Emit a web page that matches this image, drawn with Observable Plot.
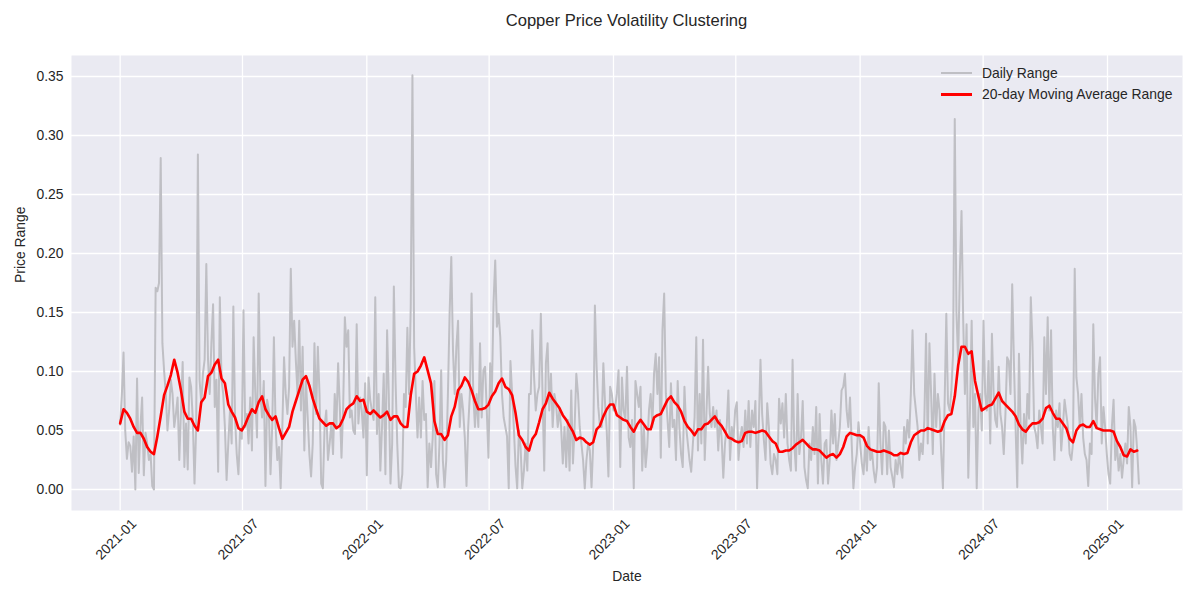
<!DOCTYPE html>
<html>
<head>
<meta charset="utf-8">
<script src="https://cdn.jsdelivr.net/npm/d3@7"></script>
<script src="https://cdn.jsdelivr.net/npm/@observablehq/plot@0.6"></script>
<style>
  body { margin: 0; background: #ffffff; }
  #wrap { position: relative; width: 1200px; height: 600px; font-family: "Liberation Sans", Arial, sans-serif; color: #262626; }
  #title { position: absolute; left: 71px; width: 1111px; top: 1px; height: 40px; line-height: 40px; text-align: center; font-size: 16.6px; }
  #chart { position: absolute; left: 0; top: 40px; }
  .sw { position: absolute; left: 941px; width: 31px; }
  .lt { position: absolute; left: 982px; font-size: 13.9px; line-height: 16px; transform: translateY(-50%); white-space: nowrap; }
</style>
</head>
<body>
<div id="wrap">
  <div id="title">Copper Price Volatility Clustering</div>
  <div id="chart"></div>
  <div class="sw" style="top:72px;height:2px;background:#bfbfc4"></div>
  <div class="lt" style="top:73px">Daily Range</div>
  <div class="sw" style="top:92.5px;height:3px;background:#ff0000"></div>
  <div class="lt" style="top:94px">20-day Moving Average Range</div>
</div>
<script>
// ---- data ----
const seriesStart = "2021-01-01";
const rangeStepDays = 2.5;   // spacing of the daily-range readings
const maStepDays = 5;        // spacing of the moving-average readings

const dailyRange = [
0.055,0.080,0.116,0.050,0.026,0.040,0.037,0.015,0.045,0.000,
0.094,0.014,0.053,0.078,0.012,0.048,0.039,0.025,0.030,0.003,
0.000,0.171,0.168,0.175,0.281,0.124,0.101,0.081,0.050,0.067,
0.093,0.081,0.053,0.064,0.078,0.025,0.067,0.108,0.019,0.056,
0.017,0.095,0.087,0.059,0.005,0.053,0.284,0.093,0.073,0.098,
0.110,0.191,0.110,0.081,0.124,0.157,0.070,0.093,0.015,0.163,
0.093,0.081,0.053,0.008,0.039,0.067,0.039,0.155,0.061,0.030,
0.013,0.050,0.043,0.152,0.053,0.064,0.039,0.078,0.033,0.129,
0.081,0.044,0.166,0.081,0.061,0.092,0.003,0.076,0.067,0.013,
0.053,0.129,0.053,0.025,0.036,0.001,0.053,0.112,0.081,0.064,
0.087,0.187,0.121,0.143,0.109,0.081,0.143,0.067,0.121,0.033,
0.092,0.061,0.030,0.011,0.039,0.124,0.064,0.121,0.081,0.005,
0.001,0.053,0.067,0.025,0.039,0.056,0.030,0.081,0.053,0.107,
0.070,0.027,0.070,0.146,0.121,0.135,0.061,0.067,0.050,0.047,
0.140,0.056,0.078,0.067,0.044,0.090,0.012,0.095,0.076,0.067,
0.059,0.163,0.047,0.081,0.016,0.053,0.098,0.013,0.135,0.081,
0.005,0.039,0.172,0.092,0.039,0.002,0.001,0.013,0.081,0.070,
0.137,0.081,0.155,0.351,0.121,0.081,0.044,0.078,0.044,0.092,
0.059,0.064,0.002,0.039,0.019,0.044,0.092,0.013,0.002,0.039,
0.101,0.025,0.002,0.025,0.081,0.149,0.197,0.118,0.081,0.121,
0.143,0.053,0.081,0.067,0.044,0.003,0.053,0.081,0.166,0.081,
0.053,0.081,0.053,0.124,0.061,0.101,0.104,0.067,0.027,0.107,
0.081,0.158,0.194,0.138,0.149,0.129,0.081,0.061,0.053,0.045,
0.001,0.109,0.081,0.053,0.020,0.001,0.050,0.036,0.001,0.016,
0.039,0.016,0.081,0.081,0.135,0.095,0.067,0.081,0.087,0.149,
0.081,0.016,0.107,0.124,0.067,0.098,0.053,0.081,0.073,0.053,
0.067,0.053,0.022,0.053,0.019,0.059,0.016,0.084,0.022,0.053,
0.098,0.081,0.053,0.039,0.025,0.001,0.025,0.039,0.033,0.002,
0.039,0.156,0.104,0.070,0.053,0.053,0.107,0.073,0.050,0.011,
0.087,0.081,0.067,0.070,0.081,0.101,0.019,0.095,0.067,0.059,
0.104,0.044,0.036,0.059,0.001,0.092,0.081,0.070,0.087,0.016,
0.053,0.019,0.036,0.067,0.081,0.053,0.098,0.115,0.081,0.112,
0.027,0.135,0.166,0.081,0.059,0.036,0.090,0.053,0.059,0.025,
0.092,0.053,0.030,0.019,0.087,0.053,0.039,0.025,0.015,0.039,
0.061,0.129,0.033,0.081,0.039,0.127,0.025,0.064,0.104,0.064,
0.053,0.070,0.053,0.067,0.033,0.059,0.044,0.010,0.039,0.053,
0.084,0.025,0.053,0.042,0.067,0.074,0.025,0.044,0.053,0.036,
0.067,0.039,0.075,0.036,0.067,0.053,0.075,0.001,0.053,0.110,
0.064,0.042,0.025,0.073,0.053,0.022,0.013,0.030,0.025,0.013,
0.077,0.056,0.073,0.044,0.081,0.039,0.025,0.016,0.110,0.039,
0.016,0.081,0.030,0.044,0.075,0.019,0.008,0.001,0.039,0.025,
0.053,0.030,0.070,0.005,0.064,0.025,0.005,0.039,0.042,0.005,
0.025,0.067,0.039,0.064,0.025,0.039,0.053,0.084,0.087,0.098,
0.067,0.053,0.078,0.039,0.001,0.019,0.030,0.057,0.039,0.022,
0.013,0.039,0.016,0.053,0.025,0.033,0.016,0.006,0.019,0.090,
0.039,0.013,0.057,0.053,0.013,0.050,0.019,0.011,0.002,0.025,
0.013,0.030,0.019,0.010,0.053,0.039,0.059,0.044,0.081,0.135,
0.081,0.067,0.053,0.025,0.039,0.030,0.059,0.132,0.039,0.124,
0.081,0.030,0.098,0.053,0.081,0.067,0.030,0.001,0.073,0.149,
0.073,0.067,0.084,0.115,0.314,0.150,0.109,0.183,0.236,0.143,
0.081,0.140,0.010,0.067,0.143,0.053,0.081,0.001,0.067,0.081,
0.050,0.143,0.081,0.067,0.109,0.039,0.132,0.081,0.059,0.053,
0.104,0.064,0.053,0.030,0.064,0.112,0.109,0.081,0.174,0.109,
0.053,0.002,0.115,0.053,0.022,0.064,0.039,0.081,0.060,0.163,
0.124,0.053,0.047,0.035,0.067,0.053,0.039,0.129,0.081,0.146,
0.067,0.135,0.053,0.025,0.067,0.053,0.073,0.033,0.053,0.076,
0.064,0.053,0.030,0.025,0.039,0.187,0.095,0.081,0.053,0.081,
0.044,0.030,0.025,0.003,0.039,0.030,0.140,0.078,0.053,0.098,
0.112,0.039,0.070,0.053,0.030,0.013,0.005,0.053,0.076,0.025,
0.039,0.016,0.030,0.010,0.025,0.039,0.022,0.070,0.053,0.002,
0.059,0.053,0.033,0.005
];

const movingAvg20 = [
0.056,0.068,0.065,0.060,0.053,0.048,0.048,0.043,0.036,0.032,
0.030,0.045,0.062,0.080,0.088,0.097,0.110,0.099,0.084,0.066,
0.060,0.060,0.054,0.050,0.074,0.078,0.096,0.099,0.106,0.110,
0.094,0.090,0.072,0.066,0.061,0.052,0.050,0.055,0.062,0.068,
0.065,0.074,0.079,0.068,0.063,0.059,0.062,0.052,0.043,0.048,
0.053,0.066,0.075,0.084,0.093,0.096,0.088,0.077,0.068,0.060,
0.057,0.054,0.056,0.056,0.052,0.054,0.060,0.068,0.071,0.073,
0.079,0.075,0.076,0.066,0.064,0.067,0.064,0.061,0.063,0.066,
0.059,0.062,0.062,0.056,0.053,0.053,0.080,0.098,0.100,0.105,
0.112,0.101,0.090,0.058,0.047,0.047,0.042,0.046,0.062,0.070,
0.084,0.088,0.095,0.091,0.084,0.075,0.068,0.068,0.069,0.072,
0.079,0.083,0.090,0.094,0.087,0.085,0.080,0.065,0.046,0.042,
0.036,0.033,0.043,0.047,0.057,0.068,0.073,0.082,0.077,0.073,
0.069,0.063,0.059,0.054,0.049,0.042,0.044,0.043,0.040,0.038,
0.040,0.051,0.054,0.062,0.068,0.072,0.072,0.063,0.061,0.059,
0.058,0.053,0.049,0.055,0.059,0.055,0.051,0.051,0.061,0.063,
0.064,0.070,0.076,0.079,0.074,0.071,0.066,0.058,0.053,0.050,
0.046,0.051,0.051,0.055,0.056,0.059,0.062,0.057,0.054,0.049,
0.044,0.043,0.041,0.040,0.041,0.048,0.049,0.049,0.048,0.049,
0.050,0.049,0.045,0.041,0.039,0.032,0.032,0.033,0.033,0.035,
0.038,0.040,0.042,0.039,0.036,0.034,0.034,0.033,0.030,0.027,
0.029,0.030,0.027,0.030,0.036,0.045,0.048,0.047,0.046,0.046,
0.044,0.037,0.034,0.033,0.032,0.032,0.033,0.032,0.031,0.029,
0.029,0.031,0.030,0.031,0.040,0.046,0.048,0.050,0.050,0.052,
0.051,0.050,0.049,0.050,0.058,0.063,0.064,0.079,0.105,0.121,
0.121,0.115,0.117,0.092,0.079,0.067,0.069,0.071,0.072,0.077,
0.082,0.075,0.072,0.069,0.066,0.062,0.055,0.051,0.049,0.053,
0.056,0.056,0.057,0.060,0.069,0.071,0.065,0.060,0.060,0.056,
0.052,0.043,0.040,0.050,0.054,0.055,0.053,0.053,0.058,0.052,
0.051,0.050,0.050,0.050,0.049,0.041,0.036,0.029,0.028,0.034,
0.032,0.033
];

const xTickLabels = ["2021-01","2021-07","2022-01","2022-07","2023-01","2023-07","2024-01","2024-07","2025-01"];
const yTickValues = [0.00,0.05,0.10,0.15,0.20,0.25,0.30,0.35];
const xDomain = ["2020-10-21","2025-04-22"];
const yDomain = [-0.0178, 0.3678];

// ---- build tables ----
const t0 = new Date(seriesStart + "T00:00:00Z").getTime();
const DAY = 864e5;
const rangeRows = dailyRange.map((v, i) => ({date: new Date(t0 + i * rangeStepDays * DAY), value: v}));
const maRows = movingAvg20.map((v, i) => ({date: new Date(t0 + i * maStepDays * DAY), value: v}));
const xTicks = xTickLabels.map(s => new Date(s + "-01T00:00:00Z"));

const chart = Plot.plot({
  width: 1200,
  height: 560,
  marginLeft: 71,
  marginRight: 18,
  marginTop: 15,
  marginBottom: 90,
  style: {fontFamily: "'Liberation Sans', Arial, sans-serif", fontSize: "13.9px", color: "#262626", background: "transparent"},
  x: {type: "utc", domain: xDomain.map(s => new Date(s + "T00:00:00Z")), axis: null},
  y: {domain: yDomain},
  marks: [
    Plot.frame({fill: "#eaeaf2", stroke: "none"}),
    Plot.gridX(xTicks, {stroke: "#ffffff", strokeOpacity: 1, strokeWidth: 1.3}),
    Plot.gridY(yTickValues, {stroke: "#ffffff", strokeOpacity: 1, strokeWidth: 1.3}),
    Plot.axisY(yTickValues, {tickSize: 0, tickPadding: 8, tickFormat: d3.format(".2f"), label: null, fontSize: 13.9}),
    Plot.text(xTicks, {x: d => d, text: (d, i) => xTickLabels[i], frameAnchor: "bottom", dx: -1, dy: 32, rotate: -45, textAnchor: "middle", fontSize: 13.9, fill: "#262626"}),
    Plot.text(["Date"], {frameAnchor: "bottom", dy: 70, fontSize: 13.9, fill: "#262626"}),
    Plot.text(["Price Range"], {frameAnchor: "left", dx: -51, rotate: -90, fontSize: 13.9, fill: "#262626"}),
    Plot.line(rangeRows, {x: "date", y: "value", stroke: "#bfbfc4", strokeWidth: 2, strokeLinejoin: "round"}),
    Plot.line(maRows, {x: "date", y: "value", stroke: "#ff0000", strokeWidth: 2.6, strokeLinejoin: "round", curve: "linear"})
  ]
});
document.getElementById("chart").appendChild(chart);
</script>
</body>
</html>
